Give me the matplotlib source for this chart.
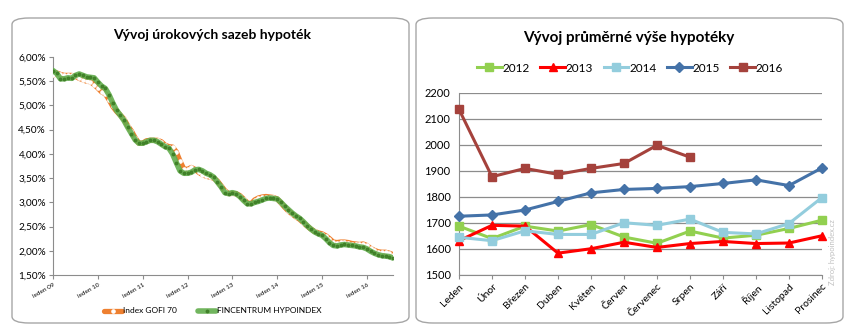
import numpy as np
import matplotlib
matplotlib.use("Agg")
import matplotlib.pyplot as plt
from matplotlib.patches import FancyBboxPatch
from matplotlib.ticker import FuncFormatter, MultipleLocator

plt.rcParams["font.family"] = ["Lato", "DejaVu Sans"]

# --- left chart: monthly mortgage rates, leden 09 .. srpen 16 (%)
gofi = [
    5.62, 5.67, 5.64, 5.62, 5.62, 5.62, 5.60, 5.56, 5.53, 5.50, 5.49, 5.43,
    5.36, 5.28, 5.24, 5.12, 4.98, 4.88, 4.80, 4.72, 4.58, 4.47, 4.33, 4.22,
    4.22, 4.27, 4.28, 4.28, 4.28, 4.25, 4.18, 4.15, 4.14, 4.04, 3.85, 3.69,
    3.68, 3.72, 3.68, 3.62, 3.57, 3.54, 3.52, 3.50, 3.44, 3.34, 3.24, 3.18,
    3.18, 3.18, 3.14, 3.07, 2.99, 2.97, 3.05, 3.09, 3.11, 3.12, 3.11, 3.10,
    3.07, 2.99, 2.90, 2.82, 2.76, 2.70, 2.65, 2.58, 2.51, 2.45, 2.40, 2.37,
    2.35, 2.31, 2.25, 2.18, 2.17, 2.18, 2.18, 2.17, 2.15, 2.14, 2.13, 2.14,
    2.11, 2.05, 2.01, 1.98, 1.97, 1.97, 1.95, 1.92,
]
fincentrum = [
    5.72, 5.66, 5.55, 5.55, 5.57, 5.56, 5.62, 5.65, 5.62, 5.59, 5.58, 5.57,
    5.48, 5.40, 5.35, 5.22, 5.05, 4.90, 4.80, 4.69, 4.55, 4.42, 4.29, 4.22,
    4.22, 4.25, 4.28, 4.28, 4.25, 4.20, 4.15, 4.12, 4.00, 3.82, 3.65, 3.60,
    3.60, 3.62, 3.67, 3.68, 3.65, 3.60, 3.57, 3.52, 3.42, 3.32, 3.20, 3.18,
    3.20, 3.18, 3.12, 3.04, 2.97, 2.97, 3.00, 3.02, 3.05, 3.08, 3.09, 3.08,
    3.07, 3.00, 2.92, 2.85, 2.78, 2.72, 2.67, 2.60, 2.52, 2.45, 2.39, 2.35,
    2.32, 2.25, 2.17, 2.11, 2.10, 2.12, 2.13, 2.12, 2.11, 2.10, 2.08, 2.07,
    2.04, 1.99, 1.95, 1.92, 1.90, 1.89, 1.88, 1.85,
]
year_labels = ["leden 09", "leden 10", "leden 11", "leden 12",
               "leden 13", "leden 14", "leden 15", "leden 16"]

# --- right chart: average mortgage size by month (thousand CZK)
months = ["Leden", "Únor", "Březen", "Duben", "Květen", "Červen",
          "Červenec", "Srpen", "Září", "Říjen", "Listopad", "Prosinec"]
y2012 = [1688, 1640, 1688, 1669, 1694, 1646, 1622, 1669, 1642, 1653, 1679, 1711]
y2013 = [1632, 1691, 1688, 1584, 1601, 1626, 1606, 1621, 1629, 1621, 1623, 1651]
y2014 = [1645, 1632, 1670, 1656, 1656, 1701, 1691, 1715, 1664, 1658, 1698, 1798]
y2015 = [1726, 1731, 1750, 1783, 1816, 1829, 1833, 1840, 1852, 1866, 1844, 1912]
y2016 = [2137, 1878, 1910, 1887, 1910, 1929, 1999, 1953]

W, H = 853, 332
fig = plt.figure(figsize=(W / 100, H / 100), dpi=100)

# rounded frames around both charts
for x0, x1 in [(12, 409), (416, 843)]:
    fig.patches.append(FancyBboxPatch(
        (x0 / W, 9 / H), (x1 - x0) / W, (314 - 9) / H,
        boxstyle="round,pad=0,rounding_size=0.02", transform=fig.transFigure,
        facecolor="none", edgecolor="#a6a6a6", lw=1.0, zorder=-1))

# ---------------- left chart
ax1 = fig.add_axes([53 / W, 1 - 275 / H, (393 - 53) / W, (275 - 57) / H])
ax1.set_facecolor("none")
xm = np.arange(len(gofi))
ax1.plot(xm, gofi, color="#ee8030", lw=3.8, solid_capstyle="round",
         marker="o", ms=2.3, mfc="white", mec="white", zorder=3,
         label="Index GOFI 70")
ax1.plot(xm[:len(fincentrum)], fincentrum, color="#62ad4c", lw=4.0,
         solid_capstyle="round", marker="o", ms=1.8, mfc="#3f7f27",
         mec="#3f7f27", alpha=0.9, zorder=4, label="FINCENTRUM HYPOINDEX")
ax1.set_xlim(0, 91)
ax1.set_ylim(1.5, 6.0)
ax1.yaxis.set_major_locator(MultipleLocator(0.5))
ax1.yaxis.set_major_formatter(FuncFormatter(lambda v, p: f"{v:.2f}%".replace(".", ",")))
ax1.set_xticks(np.arange(0, 92, 12))
ax1.set_xticklabels(year_labels, rotation=30, ha="right", fontsize=4.6,
                    rotation_mode="anchor")
ax1.tick_params(axis="y", labelsize=7.2, length=3, color="#8c8c8c", pad=2)
ax1.tick_params(axis="x", length=3, color="#8c8c8c", pad=2)
for s in ["top", "right"]:
    ax1.spines[s].set_visible(False)
for s in ["left", "bottom"]:
    ax1.spines[s].set_color("#8c8c8c")
fig.text(212 / W, 1 - 35 / H, "Vývoj úrokových sazeb hypoték",
         ha="center", va="center", fontsize=10, fontweight="bold")
ax1.legend(loc="center", bbox_to_anchor=(0.47, -0.165), ncol=2, frameon=False,
           fontsize=6, handlelength=2.2, handletextpad=0.1, columnspacing=2.5,
           markerscale=1)

# ---------------- right chart
ax2 = fig.add_axes([459 / W, 1 - 275 / H, (822 - 459) / W, (275 - 93) / H])
ax2.set_facecolor("none")
xc = np.arange(len(months))
series = [
    ("2012", y2012, "#92d050", "s", 6.0),
    ("2013", y2013, "#ff0000", "^", 6.0),
    ("2014", y2014, "#93cddd", "s", 6.0),
    ("2015", y2015, "#4472a8", "D", 4.8),
    ("2016", y2016, "#a5423c", "s", 6.0),
]
for name, vals, col, mk, ms in series:
    ax2.plot(xc[:len(vals)], vals, color=col, lw=2.2, marker=mk, ms=ms,
             label=name, zorder=3, clip_on=False)
ax2.set_xlim(0, 11)
ax2.set_ylim(1500, 2200)
ax2.yaxis.set_major_locator(MultipleLocator(100))
ax2.grid(axis="y", color="#8c8c8c", lw=0.9)
ax2.set_axisbelow(True)
ax2.set_xticks(xc)
ax2.set_xticklabels(months, rotation=45, ha="right", rotation_mode="anchor",
                    fontsize=7.5)
ax2.tick_params(axis="y", labelsize=8, length=0, pad=6)
ax2.tick_params(axis="x", length=3, color="#8c8c8c", pad=2)
for s in ["top", "right"]:
    ax2.spines[s].set_visible(False)
for s in ["left", "bottom"]:
    ax2.spines[s].set_color("#8c8c8c")
fig.text(629 / W, 1 - 38 / H, "Vývoj průměrné výše hypotéky",
         ha="center", va="center", fontsize=11, fontweight="bold")
fig.legend(*ax2.get_legend_handles_labels(), loc="center",
           bbox_to_anchor=(630 / W, 1 - 68 / H), ncol=5, frameon=False,
           fontsize=8.5, handlelength=2.1, handletextpad=0.05,
           columnspacing=0.9)
fig.text(833 / W, 1 - 252 / H, "Zdroj: hypoindex.cz", rotation=90,
         ha="center", va="center", fontsize=5.5, color="#c0c0c0")

fig.savefig("out.png", dpi=100, facecolor="white")
